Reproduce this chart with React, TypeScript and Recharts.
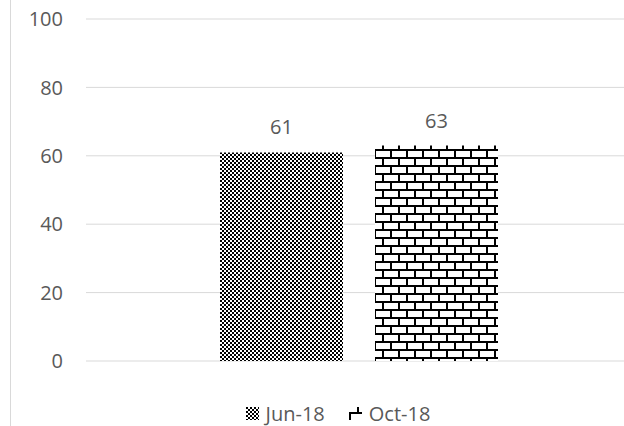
import { BarChart, Bar, XAxis, YAxis, CartesianGrid, Legend, LabelList } from "recharts";

// ─── Data ──────────────────────────────────────────────────────────────────
const categories = [""];
const jun18 = [61];
const oct18 = [63];
const yTicks = [0, 20, 40, 60, 80, 100];

const data = categories.map((name, i) => ({ name, jun: jun18[i], oct: oct18[i] }));

const FONT = "'Open Sans', sans-serif";
const TEXT = "#595959";
const GRID = "#d9d9d9";

const series = [
  { key: "jun", name: "Jun-18", fill: "url(#checker)", icon: "url(#checker)" },
  { key: "oct", name: "Oct-18", fill: "url(#brick)", icon: "url(#brickLegend)" },
];

function LegendContent() {
  return (
    <div
      style={{
        display: "flex",
        justifyContent: "center",
        alignItems: "center",
        height: 26,
        fontFamily: FONT,
        fontSize: 20,
        color: TEXT,
        paddingLeft: 52,
      }}
    >
      {series.map((s, i) => (
        <div key={s.key} style={{ display: "flex", alignItems: "center", marginLeft: i ? 24 : 0 }}>
          <svg width={13} height={13} style={{ marginRight: 7 }}>
            <rect x={0} y={0} width={13} height={13} fill={s.icon} />
          </svg>
          <span>{s.name}</span>
        </div>
      ))}
    </div>
  );
}

export default function App() {
  return (
    <div style={{ position: "fixed", left: 0, top: 0, width: 624, height: 426, overflow: "hidden", background: "#fff" }}>
      <div style={{ position: "absolute", left: 10, top: 0, width: 1, height: 426, background: GRID }} />
      <BarChart
        width={632}
        height={426}
        data={data}
        margin={{ top: 19, right: 0, left: 0, bottom: 39 }}
        barSize={123}
        barGap={32}
      >
        <defs>
          <pattern id="checker" width={4} height={4} patternUnits="userSpaceOnUse">
            <rect width={4} height={4} fill="#fff" />
            <rect x={0} y={0} width={2} height={2} fill="#000" />
            <rect x={2} y={2} width={2} height={2} fill="#000" />
          </pattern>
          <pattern id="brick" x={6} y={5} width={16} height={16} patternUnits="userSpaceOnUse">
            <rect width={16} height={16} fill="#fff" />
            <rect x={0} y={0} width={16} height={2} fill="#000" />
            <rect x={0} y={8} width={16} height={2} fill="#000" />
            <rect x={0} y={0} width={2} height={8} fill="#000" />
            <rect x={8} y={8} width={2} height={8} fill="#000" />
          </pattern>
          <pattern id="brickLegend" x={8} y={-3} width={16} height={16} patternUnits="userSpaceOnUse">
            <rect width={16} height={16} fill="#fff" />
            <rect x={0} y={0} width={16} height={2} fill="#000" />
            <rect x={0} y={8} width={16} height={2} fill="#000" />
            <rect x={0} y={0} width={2} height={8} fill="#000" />
            <rect x={8} y={8} width={2} height={8} fill="#000" />
          </pattern>
        </defs>
        <CartesianGrid vertical={false} stroke={GRID} />
        <XAxis dataKey="name" hide />
        <YAxis
          width={86}
          domain={[0, 100]}
          ticks={yTicks}
          axisLine={false}
          tickLine={false}
          tickMargin={17}
          tick={{ fontSize: 20, fill: TEXT, fontFamily: FONT }}
        />
        <Legend
          verticalAlign="bottom"
          content={<LegendContent />}
          wrapperStyle={{ top: 400, left: 0, width: 624, bottom: "auto" }}
        />
        {series.map((s) => (
          <Bar key={s.key} dataKey={s.key} name={s.name} fill={s.fill} isAnimationActive={false}>
            <LabelList
              dataKey={s.key}
              position="top"
              offset={18}
              style={{ fontSize: 20, fill: TEXT, fontFamily: FONT }}
            />
          </Bar>
        ))}
      </BarChart>
    </div>
  );
}
